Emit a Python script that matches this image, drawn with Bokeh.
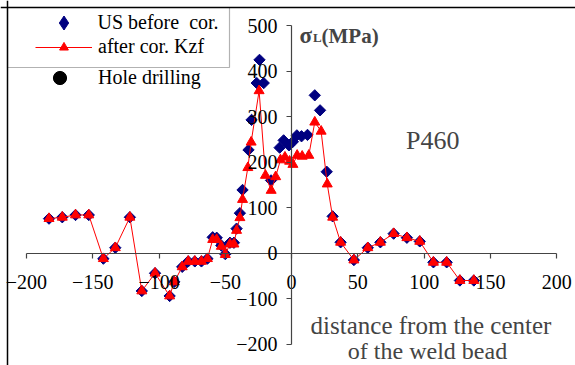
import numpy as np
from bokeh.plotting import figure
from bokeh.models import (Range1d, Legend, LegendItem, Label, Span, BoxAnnotation,
                          FixedTicker)
from bokeh.embed import file_html
from bokeh.resources import INLINE

# ---- data ----
before_x = [-183, -173, -163, -153, -142, -133, -122, -113, -103, -92, -88.5, -82.5,
            -78, -73, -68, -63.5, -59.5, -56.5, -53, -50, -46.5, -43.5, -41.5, -39,
            -37, -32.5, -30.2, -26.3, -24.2, -21, -15.5, -9, -6, -2, 1, 4, 7.5, 12,
            17.5, 21.5, 26.5, 31, 37, 47, 57.5, 67, 77, 87, 96.7, 107, 117, 127, 137.5]
before_y = [76, 79, 84, 84, -12, 12, 79, -83, -44, -94, -63, -30,
            -18, -18, -18, -12, 35, 34, 17, -2, 23, 23, 54, 88,
            139, 227, 293, 374, 425, 374, 160, 232, 248, 237, 245, 259, 257, 260,
            347, 314, 179, 81, 24, -15, 12, 24, 43, 34, 26, -20, -20, -60, -60]

after_x = [-183, -173, -163, -153, -142, -133, -122, -113, -103, -92, -88.5, -82.5,
           -78, -73, -68, -63.5, -59.5, -56.5, -53, -50, -46.5, -43.5, -41.5, -39,
           -37, -33, -30.5, -24.5, -19.7, -15.4, -12, -8.4, -5, -1.5, 1, 4.2, 8, 13,
           17.5, 22.3, 26.9, 31, 37, 47, 57.5, 67, 77, 87, 96.7, 107, 117, 127, 137.5]
after_y = [76, 79, 84, 84, -12, 12, 79, -83, -44, -94, -63, -30,
           -18, -18, -18, -12, 30, 30, 15, -3, 20, 20, 50, 78,
           118, 188, 244, 357, 171, 138, 168, 205, 211, 202, 195, 215, 213, 215,
           288, 268, 152, 79, 24, -15, 12, 24, 43, 34, 26, -20, -20, -60, -60]

# hole drilling: legend entry only, no values shown in the chart
hole_x = [float("nan")]
hole_y = [float("nan")]

x_ticks = [-200, -150, -100, -50, 0, 50, 100, 150, 200]
y_ticks = [-200, -100, 0, 100, 200, 300, 400, 500]

W, H = 575, 365
FONT = "'Liberation Serif', 'Times New Roman', serif"

p = figure(width=W, height=H, output_backend="svg", toolbar_location=None,
           x_range=Range1d(-219.6, 214.2), y_range=Range1d(-246.8, 555.4),
           min_border=0, min_border_left=0, min_border_right=0,
           min_border_top=0, min_border_bottom=0)
p.xgrid.visible = False
p.ygrid.visible = False
p.outline_line_color = None
p.background_fill_color = "white"
p.border_fill_color = "white"

# axes crossing at the origin
xa = p.xaxis[0]
xa.fixed_location = 0
xa.ticker = FixedTicker(ticks=x_ticks)
xa.bounds = (-200, 200)
ya = p.yaxis[0]
ya.fixed_location = 0
ya.ticker = FixedTicker(ticks=y_ticks)
ya.bounds = (-200, 500)
for ax in (xa, ya):
    ax.axis_line_color = "#444444"
    ax.axis_line_width = 1.2
    ax.major_tick_line_color = "#444444"
    ax.major_tick_line_width = 1.2
    ax.major_tick_in = 0
    ax.major_tick_out = 5
    ax.minor_tick_in = 0
    ax.minor_tick_out = 0
    ax.major_label_text_font = FONT
    ax.major_label_text_font_size = "20px"
    ax.major_label_text_color = "black"
xa.major_label_standoff = 17
ya.major_label_standoff = 9

# series
r_before = p.scatter(before_x, before_y, marker="square", size=8, angle=np.pi / 4,
                     fill_color="#000080", line_color="#000080")
r_line = p.line(after_x, after_y, line_color="#ff0000", line_width=1)
r_after = p.scatter(after_x, after_y, marker="triangle", size=10,
                    fill_color="#ff0000", line_color="#ff0000")
r_hole = p.scatter(hole_x, hole_y, marker="circle", size=13,
                   fill_color="black", line_color="black")
# legend proxy for the diamond symbol (no values drawn)
r_before_leg = p.scatter(hole_x, hole_y, marker="diamond", fill_color="#000080",
                         line_color="#000080")


def make_legend(item, loc, gh, standoff):
    lg = Legend(items=[item], location=loc, padding=0, spacing=0, margin=0,
                glyph_width=57, glyph_height=gh, label_height=22,
                label_standoff=standoff, label_text_font=FONT,
                label_text_font_size="20px", label_text_color="black",
                background_fill_alpha=0, border_line_alpha=0)
    p.add_layout(lg)
    return lg


make_legend(LegendItem(label="US before  cor.", renderers=[r_before_leg]),
            (34.5, H - 39.5), 35, 6)
make_legend(LegendItem(label="after cor. Kzf", renderers=[r_line, r_after]),
            (35, H - 58), 22, 6)
make_legend(LegendItem(label="Hole drilling", renderers=[r_hole]),
            (31, H - 93.5), 33, 10)

# legend box (encloses only the first two entries)
p.add_layout(BoxAnnotation(left=7, right=229, top=H - 7, bottom=H - 67,
                           left_units="screen", right_units="screen",
                           top_units="screen", bottom_units="screen",
                           fill_alpha=0, line_color="black", line_width=1.2))
# chart area border (top and left)
p.add_layout(Span(location=7, location_units="screen", dimension="height",
                  line_color="black", line_width=1.5))
p.add_layout(Span(location=H - 7, location_units="screen", dimension="width",
                  line_color="black", line_width=1.5))

# texts
p.add_layout(Label(x=299, y=H - 35, x_units="screen", y_units="screen", text="σ",
                   text_font=FONT, text_font_style="bold", text_font_size="23px",
                   text_baseline="alphabetic"))
p.add_layout(Label(x=312.5, y=H - 37, x_units="screen", y_units="screen", text="L",
                   text_font=FONT, text_font_style="bold", text_font_size="13px",
                   text_baseline="alphabetic"))
p.add_layout(Label(x=321, y=H - 35, x_units="screen", y_units="screen", text="(MPa)",
                   text_font=FONT, text_font_style="bold", text_font_size="21px",
                   text_baseline="alphabetic"))
p.add_layout(Label(x=459, y=H - 140, x_units="screen", y_units="screen", text="P460",
                   text_font=FONT, text_font_size="26px", text_align="right",
                   text_baseline="alphabetic"))
p.add_layout(Label(x=430.5, y=H - 325, x_units="screen", y_units="screen",
                   text="distance from the center", text_font=FONT,
                   text_font_size="25px", text_align="center",
                   text_baseline="alphabetic"))
p.add_layout(Label(x=430, y=H - 350, x_units="screen", y_units="screen",
                   text="of the  weld bead", text_font=FONT,
                   text_font_size="24px", text_align="center",
                   text_baseline="alphabetic"))

open("out.html", "w").write(file_html(p, INLINE))
